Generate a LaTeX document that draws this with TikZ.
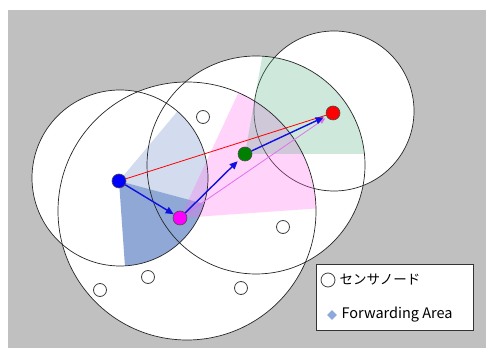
\documentclass[tikz,border=0pt]{standalone}
\usepackage{fontspec}
\newfontfamily\jpfont{Noto Sans CJK JP}
\usetikzlibrary{arrows.meta,calc,shapes.geometric}
\definecolor{bggray}{HTML}{C0C0C0}
\definecolor{srcblue}{HTML}{0000FF}
\definecolor{hopmag}{HTML}{FF00FF}
\definecolor{hopgreen}{HTML}{008000}
\definecolor{dstred}{HTML}{FF0000}
\definecolor{fwdlight}{HTML}{8CA5D7}
\definecolor{fwddark}{HTML}{7593CC}
\definecolor{fwdpink}{HTML}{FF64F0}
\definecolor{fwdgreen}{HTML}{3CAA73}
\definecolor{legblue}{HTML}{8CA8DC}
\definecolor{lineviolet}{HTML}{E070F0}
\definecolor{arrowblue}{HTML}{1010E0}

\begin{document}
\begin{tikzpicture}[x=1pt,y=1pt,>={Triangle[length=8pt,width=7pt]},
  radiorange/.style={draw=black!85,line width=0.7pt},
  dot/.style={circle,draw=black!70,line width=0.6pt,minimum size=14pt,inner sep=0pt},
  sensor/.style={circle,draw=black!75,fill=white,line width=0.8pt,minimum size=13pt,inner sep=0pt},
  hop/.style={->,draw=arrowblue,fill=arrowblue,line width=1.4pt},
  fwdwedge/.style={fill opacity=#1},
  legtext/.style={anchor=west,font=\jpfont\fontsize{13.5}{15}\selectfont}]

  \useasboundingbox (0,0) rectangle (486,358);
  \fill[bggray] (8,10) rectangle (486,348);

  % positions of the hops
  \coordinate (pS) at (119,177);
  \coordinate (pM) at (180,140);
  \coordinate (pG) at (245,204);
  \coordinate (pD) at (333,245);

  % radio ranges
  \coordinate (cA) at (120,180);
  \coordinate (cB) at (187,147);
  \coordinate (cC) at (256,193);
  \coordinate (cD) at (334,247);
  \foreach \c/\r in {cA/88,cB/129,cC/109,cD/80}
    \fill[white] (\c) circle[radius=\r];
  \draw[radiorange] (cD) circle[radius=80];

  % forwarding areas
  \begin{scope}
    \clip (cA) circle[radius=88];
    \fill[fwdlight,fwdwedge=0.38] (pS) -- ($(pS)+(50:300)$) -- ($(pS)+(-15:300)$) -- cycle;
    \fill[fwddark,fwdwedge=0.8] (pS) -- ($(pS)+(-15:300)$) -- ($(pS)+(-86:300)$) -- cycle;
  \end{scope}
  \begin{scope}
    \clip (cB) circle[radius=129];
    \fill[fwdpink,fwdwedge=0.28] (pM) -- ($(pM)+(65:300)$) -- ($(pM)+(4:300)$) -- cycle;
  \end{scope}
  \begin{scope}
    \clip (cC) circle[radius=109];
    \fill[fwdgreen,fwdwedge=0.25] (pG) -- ($(pG)+(80:300)$) -- ($(pG)+(0:300)$) -- cycle;
  \end{scope}

  \foreach \c/\r in {cA/88,cB/129,cC/109}
    \draw[radiorange] (\c) circle[radius=\r];

  % sensor nodes
  \node[sensor] (s1) at (203,241) {};
  \node[sensor] (s2) at (283,131) {};
  \node[sensor] (s3) at (148,81) {};
  \node[sensor] (s4) at (100,68) {};
  \node[sensor] (s5) at (241,70) {};

  % route
  \node[dot,fill=srcblue] (src) at (pS) {};
  \node[dot,fill=hopmag] (hop1) at (pM) {};
  \node[dot,fill=hopgreen] (hop2) at (pG) {};
  \node[dot,fill=dstred] (dst) at (pD) {};

  \draw[dstred,line width=0.8pt] (src) -- (dst);
  \draw[lineviolet,line width=0.8pt,-{Triangle[length=6pt,width=5pt]},shorten >=2pt] (hop1) -- (dst);
  \draw[hop] (src) -- (hop1);
  \draw[hop,shorten >=3pt] (hop1) -- (hop2);
  \draw[hop,shorten >=3pt] (hop2) -- (dst);

  % legend
  \node[draw=black!80,fill=white,line width=1pt,minimum width=157pt,minimum height=65pt,
        inner sep=0pt] (legend) at (394.5,60.5) {};
  \node[sensor,minimum size=14pt] (legdot) at (328,78) {};
  \node[legtext] (legsensor) at (336,78) {センサノード};
  \node[diamond,fill=legblue,minimum size=10pt,inner sep=0pt] (legdia) at (332,43) {};
  \node[legtext,font=\jpfont\fontsize{14.5}{16}\selectfont] (legarea) at (338,43) {Forwarding Area};
\end{tikzpicture}
\end{document}
